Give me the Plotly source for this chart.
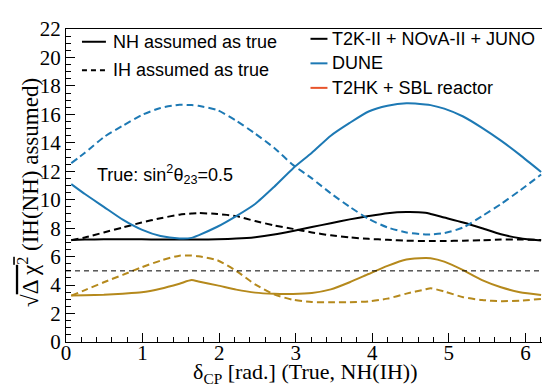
import plotly.graph_objects as go

# delta_CP (true) grid, radians
delta_cp = [0.069, 0.247, 0.494, 0.741, 0.988, 1.235, 1.482, 1.640, 1.729, 1.976,
            2.223, 2.470, 2.717, 2.964, 3.211, 3.458, 3.705, 3.952, 4.199, 4.446,
            4.693, 4.762, 4.940, 5.187, 5.434, 5.681, 5.928, 6.205]

# T2K-II + NOvA-II + JUNO
t2k_nh = [7.17, 7.20, 7.22, 7.23, 7.22, 7.20, 7.20, 7.20, 7.20, 7.22,
          7.27, 7.37, 7.55, 7.80, 8.08, 8.35, 8.62, 8.85, 9.05, 9.13,
          9.08, 9.00, 8.75, 8.40, 8.00, 7.57, 7.30, 7.13]
t2k_ih = [7.15, 7.35, 7.70, 8.05, 8.40, 8.70, 8.95, 9.03, 9.06, 9.00,
          8.85, 8.50, 8.20, 7.95, 7.70, 7.50, 7.35, 7.25, 7.18, 7.12,
          7.10, 7.10, 7.10, 7.12, 7.15, 7.20, 7.20, 7.17]

# DUNE
dune_nh = [11.10, 10.40, 9.50, 8.60, 7.90, 7.45, 7.28, 7.32, 7.50, 8.10,
           8.85, 9.70, 10.90, 12.20, 13.30, 14.50, 15.40, 16.20, 16.60, 16.78,
           16.70, 16.65, 16.40, 15.85, 15.05, 14.15, 13.15, 11.95]
dune_ih = [12.57, 13.30, 14.40, 15.20, 15.95, 16.45, 16.67, 16.65, 16.60, 16.30,
           15.55, 14.65, 13.65, 12.45, 11.50, 10.45, 9.50, 8.65, 8.05, 7.70,
           7.56, 7.56, 7.65, 8.05, 8.85, 9.70, 10.65, 11.77]

# T2HK + SBL reactor
t2hk_nh = [3.26, 3.28, 3.32, 3.40, 3.50, 3.75, 4.10, 4.35, 4.25, 3.98,
           3.68, 3.47, 3.39, 3.38, 3.45, 3.70, 4.20, 4.78, 5.35, 5.80,
           5.91, 5.89, 5.65, 5.05, 4.35, 3.85, 3.50, 3.31]
t2hk_ih = [3.26, 3.65, 4.20, 4.72, 5.25, 5.72, 6.07, 6.08, 6.03, 5.75,
           5.00, 4.05, 3.35, 2.97, 2.81, 2.80, 2.80, 2.85, 3.05, 3.40,
           3.70, 3.78, 3.55, 3.15, 2.95, 2.87, 2.90, 3.03]

threshold = 5.0

x_ticks = [0, 1, 2, 3, 4, 5, 6]
y_ticks = [0, 2, 4, 6, 8, 10, 12, 14, 16, 18, 20, 22]

BLACK = "#000000"
BLUE = "#1d79b4"
GOLD = "#b5891c"
RED_LEG = "#e8542b"
DASH = "7px,4px"

W, H = 550, 386
L, R, T, B = 58, 9, 15, 52


def px_x(p):
    return (p - L) / (W - L - R)


def px_y(p):
    return (H - B - p) / (H - B - T)


fig = go.Figure()
series = [
    (t2k_nh, BLACK, "solid"), (t2k_ih, BLACK, DASH),
    (dune_nh, BLUE, "solid"), (dune_ih, BLUE, DASH),
    (t2hk_nh, GOLD, "solid"), (t2hk_ih, GOLD, DASH),
]
for ys, col, dash in series:
    fig.add_trace(go.Scatter(x=delta_cp, y=ys, mode="lines",
                             line=dict(color=col, width=2, dash=dash, shape="spline", smoothing=0.6),
                             showlegend=False, hoverinfo="skip"))

fig.add_shape(type="line", xref="paper", yref="y", x0=0, x1=1, y0=threshold, y1=threshold,
              line=dict(color=BLACK, width=1, dash="5px,4px"))

shapes_leg = [
    (74, 98, 28, BLACK, "solid"), (74, 98, 57, BLACK, "5px,4px"),
    (303, 320, 25, BLACK, "solid"), (303, 320, 50, BLUE, "solid"), (303, 320, 75, RED_LEG, "solid"),
]
for x0, x1, yy, col, d in shapes_leg:
    fig.add_shape(type="line", xref="paper", yref="paper", x0=px_x(x0), x1=px_x(x1),
                  y0=px_y(yy), y1=px_y(yy), line=dict(color=col, width=2, dash=d))

SANS = "Liberation Sans, Arial, sans-serif"
SERIF = "Liberation Serif, Times New Roman, serif"
texts = [
    (103, 28, "NH assumed as true"), (103, 57, "IH assumed as true"),
    (323, 25, "T2K-II + NOvA-II + JUNO"), (323, 50, "DUNE"), (323, 75, "T2HK + SBL reactor"),
    (87, 163, "True: sin<sup>2</sup>θ<sub>23</sub>=0.5"),
]
for xx, yy, tx in texts:
    fig.add_annotation(xref="paper", yref="paper", x=px_x(xx), y=px_y(yy), text=tx,
                       showarrow=False, xanchor="left", yanchor="middle",
                       font=dict(family=SANS, size=18, color=BLACK))

# axis titles
fig.add_annotation(xref="paper", yref="paper", x=px_x(298), y=px_y(366),
                   text="δ<sub>CP</sub> [rad.] (True, NH(IH))", showarrow=False,
                   xanchor="center", yanchor="middle",
                   font=dict(family=SERIF, size=22, color=BLACK))
fig.add_annotation(xref="paper", yref="paper", x=px_x(21), y=px_y(182),
                   text="√<span style='text-decoration:overline'>Δ χ<sup>2</sup></span> (IH(NH) assumed)",
                   showarrow=False, textangle=-90, xanchor="center", yanchor="middle",
                   font=dict(family=SERIF, size=23, color=BLACK))

fig.update_layout(
    width=W, height=H, margin=dict(l=L, r=R, t=T, b=B),
    plot_bgcolor="white", paper_bgcolor="white",
    xaxis=dict(range=[0, 6.295], tickvals=x_ticks, ticks="inside", ticklen=9, tickwidth=1,
               tickcolor=BLACK, showline=True, linecolor=BLACK, linewidth=1, mirror=True,
               showgrid=False, zeroline=False, ticklabelstandoff=-8,
               minor=dict(dtick=0.2, ticks="inside", ticklen=5, tickcolor=BLACK, showgrid=False),
               tickfont=dict(family=SERIF, size=21, color=BLACK)),
    yaxis=dict(range=[0, 22], tickvals=y_ticks, ticks="inside", ticklen=9, tickwidth=1,
               tickcolor=BLACK, showline=True, linecolor=BLACK, linewidth=1, mirror=True,
               showgrid=False, zeroline=False,
               minor=dict(dtick=0.5, ticks="inside", ticklen=5, tickcolor=BLACK, showgrid=False),
               tickfont=dict(family=SERIF, size=21, color=BLACK)),
)

fig.write_html("out.html")
